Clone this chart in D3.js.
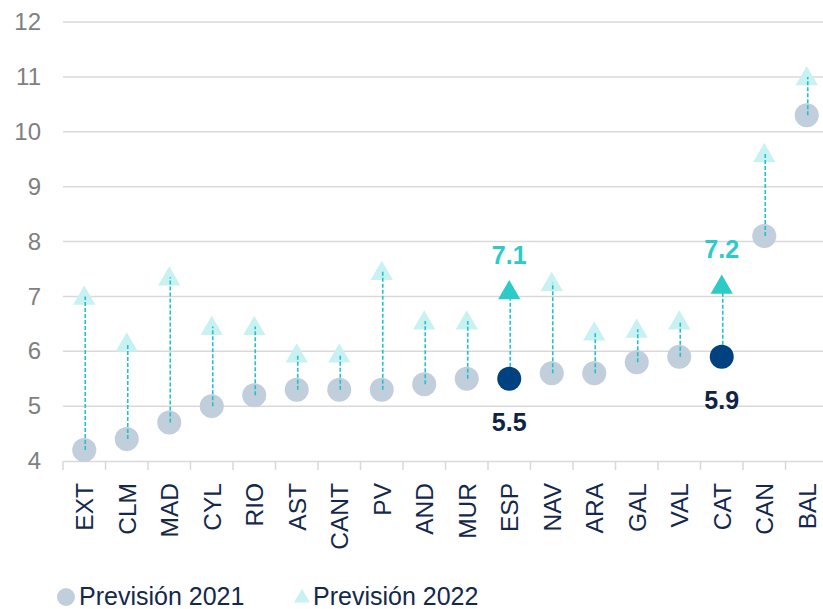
<!DOCTYPE html>
<html lang="es">
<head>
<meta charset="UTF-8">
<title>Previsión 2021 / 2022</title>
<script src="https://d3js.org/d3.v7.min.js"></script>
<style>
  body { margin: 0; background: #fff; }
  svg { display: block; font-family: "Liberation Sans", Arial, sans-serif; }
</style>
</head>
<body>
<div id="chart"></div>
<script>
// regions, ordered as in the chart
const regions = ["EXT", "CLM", "MAD", "CYL", "RIO", "AST", "CANT", "PV", "AND", "MUR",
                 "ESP", "NAV", "ARA", "GAL", "VAL", "CAT", "CAN", "BAL"];
const prev2021 = [4.2, 4.4, 4.7, 5.0, 5.2, 5.3, 5.3, 5.3, 5.4, 5.5,
                  5.5, 5.6, 5.6, 5.8, 5.9, 5.9, 8.1, 10.3];
const prev2022 = [7.0, 6.15, 7.35, 6.45, 6.45, 5.95, 5.95, 7.45, 6.55, 6.55,
                  7.1, 7.25, 6.35, 6.4, 6.55, 7.2, 9.6, 11.0];
const highlighted = ["ESP", "CAT"];
const yTicks = [4, 5, 6, 7, 8, 9, 10, 11, 12];
const seriesNames = ["Previsión 2021", "Previsión 2022"];

const W = 823, H = 609;
const svg = d3.select("#chart").append("svg").attr("width", W).attr("height", H);

const x = d3.scaleBand().domain(regions).range([63, 828]).padding(0);
const y = d3.scaleLinear().domain([4, 12]).range([461, 22]);
const cx = d => x(d) + x.bandwidth() / 2;

const rows = regions.map((r, i) => ({ r, a: prev2021[i], b: prev2022[i], hi: highlighted.includes(r) }));

// gridlines
svg.append("g")
  .selectAll("line")
  .data(yTicks.filter(t => t > 4))
  .join("line")
  .attr("x1", 63).attr("x2", 828)
  .attr("y1", d => y(d)).attr("y2", d => y(d))
  .attr("stroke", "#d9d9d9").attr("stroke-width", 1.5);

// y axis labels
const yAxis = svg.append("g")
  .attr("transform", "translate(63,0)")
  .call(d3.axisLeft(y).tickValues(yTicks).tickSize(0).tickPadding(22));
yAxis.select(".domain").remove();
yAxis.selectAll("text")
  .attr("font-size", 24)
  .attr("font-family", "Liberation Sans, Arial, sans-serif")
  .attr("fill", "#7f7f7f");

// x axis
const xAxis = svg.append("g")
  .attr("transform", `translate(0,${y(4)})`)
  .call(d3.axisBottom(x).tickSize(0).tickFormat(d => d));
xAxis.select(".domain").attr("stroke", "#d9d9d9").attr("stroke-width", 1.5);
xAxis.selectAll(".tick line").remove();
xAxis.selectAll("line.sep")
  .data(regions)
  .join("line")
  .attr("class", "sep")
  .attr("x1", d => x(d)).attr("x2", d => x(d))
  .attr("y1", 0).attr("y2", 9)
  .attr("stroke", "#d9d9d9").attr("stroke-width", 1.5);
xAxis.selectAll(".tick text")
  .attr("font-size", 24.5)
  .attr("font-family", "Liberation Sans, Arial, sans-serif")
  .attr("fill", "#14284b")
  .attr("text-anchor", "end")
  .attr("transform", "rotate(-90)")
  .attr("x", -22)
  .attr("y", 0)
  .attr("dy", "0.36em");

const tri = d3.symbol().type(d3.symbolTriangle).size(215);

// 2021 circles (normal)
svg.append("g")
  .selectAll("circle")
  .data(rows.filter(d => !d.hi))
  .join("circle")
  .attr("cx", d => cx(d.r)).attr("cy", d => y(d.a))
  .attr("r", 12)
  .attr("fill", "#c1cedc");

// 2022 triangles (normal)
svg.append("g")
  .selectAll("path")
  .data(rows.filter(d => !d.hi))
  .join("path")
  .attr("d", tri)
  .attr("transform", d => `translate(${cx(d.r)},${y(d.b) + 2})`)
  .attr("fill", "#c8f1f1");

// dashed connectors
svg.append("g")
  .selectAll("line")
  .data(rows)
  .join("line")
  .attr("x1", d => cx(d.r) + 1).attr("x2", d => cx(d.r) + 1)
  .attr("y1", d => y(d.a)).attr("y2", d => y(d.b))
  .attr("stroke", "#22c2cc").attr("stroke-width", 1.6)
  .attr("stroke-dasharray", "4,2");

// highlighted markers
const hi = rows.filter(d => d.hi);
svg.append("g")
  .selectAll("circle")
  .data(hi)
  .join("circle")
  .attr("cx", d => cx(d.r)).attr("cy", d => y(d.a))
  .attr("r", 12)
  .attr("fill", "#00427f");
svg.append("g")
  .selectAll("path")
  .data(hi)
  .join("path")
  .attr("d", tri)
  .attr("transform", d => `translate(${cx(d.r)},${y(d.b) + 2})`)
  .attr("fill", "#2dcbc8");

// value labels
svg.append("g")
  .selectAll("text")
  .data(hi)
  .join("text")
  .attr("x", d => cx(d.r)).attr("y", d => y(d.b) - 27)
  .attr("text-anchor", "middle")
  .attr("font-size", 25).attr("font-weight", "bold")
  .attr("fill", "#2dcbc8")
  .text(d => d3.format(".1f")(d.b));
svg.append("g")
  .selectAll("text")
  .data(hi)
  .join("text")
  .attr("x", d => cx(d.r)).attr("y", d => y(d.a) + 52)
  .attr("text-anchor", "middle")
  .attr("font-size", 25).attr("font-weight", "bold")
  .attr("fill", "#0e2346")
  .text(d => d3.format(".1f")(d.a));

// legend
const legend = svg.append("g");
legend.append("circle").attr("cx", 66).attr("cy", 597).attr("r", 9).attr("fill", "#c1cedc");
legend.append("text").attr("x", 79).attr("y", 605).attr("font-size", 25)
  .attr("fill", "#14284b").text(seriesNames[0]);
legend.append("path")
  .attr("d", d3.symbol().type(d3.symbolTriangle).size(110))
  .attr("transform", "translate(302,598)")
  .attr("fill", "#c8f1f1");
legend.append("text").attr("x", 313).attr("y", 605).attr("font-size", 25)
  .attr("fill", "#14284b").text(seriesNames[1]);
</script>
</body>
</html>
